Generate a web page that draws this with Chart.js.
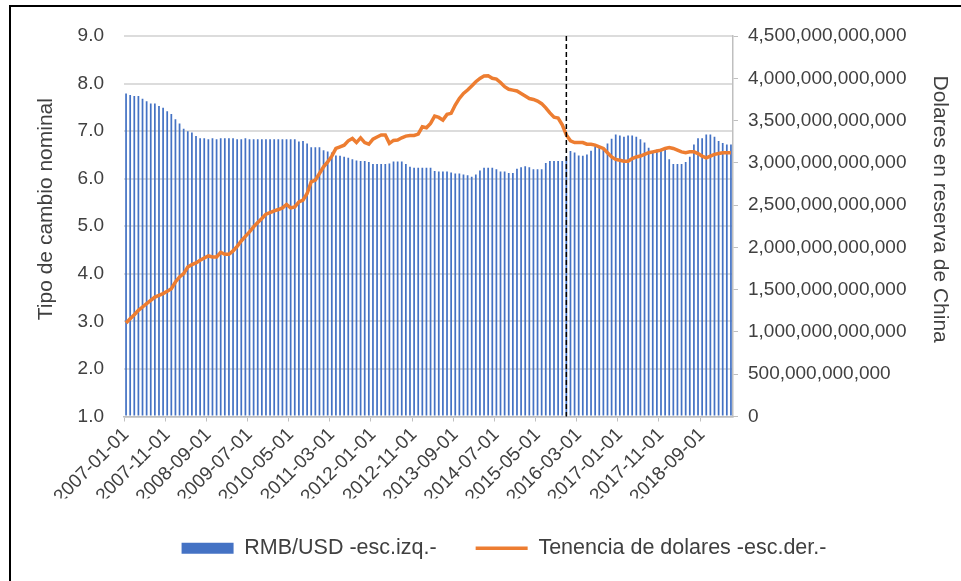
<!DOCTYPE html>
<html>
<head>
<meta charset="utf-8">
<script src="https://cdn.jsdelivr.net/npm/chart.js@4.4.1/dist/chart.umd.min.js"></script>
<style>
  html, body { margin: 0; padding: 0; background: #fff; }
  #wrap { position: relative; width: 961px; height: 581px; overflow: hidden; }
  #wrap canvas { position: absolute; left: 0; top: 0; }
  #frame { position: absolute; left: 9px; top: 5px; width: 1000px; height: 700px;
           border-left: 2px solid #000; border-top: 2px solid #000; pointer-events: none; }
</style>
</head>
<body>
<div id="wrap">
  <canvas id="chart" width="961" height="581"></canvas>
  <div id="frame"></div>
</div>
<script>
// monthly categories, 2007-01 .. 2019-04
const months = [];
for (let y = 2007; y <= 2019; y++) {
  for (let m = 1; m <= 12; m++) {
    if (y === 2019 && m > 4) break;
    months.push(y + '-' + String(m).padStart(2, '0') + '-01');
  }
}
const shownTicks = ['2007-01-01', '2007-11-01', '2008-09-01', '2009-07-01', '2010-05-01',
  '2011-03-01', '2012-01-01', '2012-11-01', '2013-09-01', '2014-07-01', '2015-05-01',
  '2016-03-01', '2017-01-01', '2017-11-01', '2018-09-01'];
const markerMonth = '2015-12-01';

// RMB per USD (left axis)
const rmbUsd = [
  7.79, 7.76, 7.74, 7.74, 7.68, 7.63, 7.58, 7.58, 7.53, 7.49, 7.42, 7.36,
  7.25, 7.16, 7.05, 7.00, 6.97, 6.90, 6.85, 6.85, 6.83, 6.85, 6.83, 6.85,
  6.85, 6.85, 6.85, 6.83, 6.83, 6.85, 6.83, 6.83, 6.83, 6.83, 6.83, 6.83,
  6.83, 6.83, 6.83, 6.83, 6.83, 6.83, 6.78, 6.79, 6.74, 6.66, 6.66, 6.66,
  6.60, 6.57, 6.55, 6.49, 6.48, 6.46, 6.44, 6.41, 6.38, 6.37, 6.37, 6.35,
  6.31, 6.31, 6.31, 6.31, 6.32, 6.36, 6.36, 6.36, 6.31, 6.25, 6.23, 6.23,
  6.23, 6.23, 6.23, 6.16, 6.15, 6.15, 6.15, 6.13, 6.11, 6.11, 6.09, 6.07,
  6.04, 6.09, 6.17, 6.23, 6.23, 6.23, 6.20, 6.15, 6.15, 6.12, 6.12, 6.21,
  6.24, 6.26, 6.24, 6.20, 6.20, 6.20, 6.33, 6.37, 6.37, 6.37, 6.37, 6.46,
  6.58, 6.55, 6.49, 6.48, 6.51, 6.59, 6.68, 6.66, 6.61, 6.74, 6.84, 6.93,
  6.91, 6.88, 6.91, 6.91, 6.88, 6.83, 6.76, 6.65, 6.56, 6.61, 6.63, 6.61,
  6.41, 6.31, 6.31, 6.31, 6.35, 6.46, 6.72, 6.85, 6.85, 6.93, 6.93, 6.88,
  6.79, 6.75, 6.72, 6.72
];

// dollar holdings, billions of USD (right axis)
const reservesBn = [
  1105, 1157, 1204, 1255, 1295, 1334, 1374, 1413, 1433, 1453, 1480, 1512,
  1591, 1650, 1690, 1768, 1796, 1816, 1847, 1875, 1899, 1887, 1887, 1942,
  1918, 1918, 1958, 2013, 2076, 2130, 2183, 2242, 2294, 2341, 2392, 2412,
  2432, 2448, 2467, 2507, 2467, 2479, 2538, 2558, 2637, 2775, 2795, 2874,
  2953, 3012, 3079, 3170, 3190, 3209, 3261, 3289, 3240, 3295, 3240, 3220,
  3280, 3305, 3330, 3330, 3230, 3265, 3270, 3296, 3316, 3324, 3324, 3340,
  3426, 3415, 3466, 3553, 3537, 3505, 3573, 3585, 3683, 3762, 3821, 3861,
  3908, 3959, 3999, 4026, 4030, 4000, 3990, 3950, 3900, 3870, 3860, 3850,
  3820, 3790, 3760, 3750, 3730, 3700, 3650, 3590, 3540, 3530, 3450, 3330,
  3260, 3240, 3240, 3240, 3220, 3220, 3210, 3190, 3170, 3120, 3070, 3040,
  3030, 3020, 3020, 3050, 3070, 3080, 3100, 3120, 3130, 3140, 3150, 3170,
  3180, 3170, 3150, 3130, 3120, 3130, 3130, 3110, 3080, 3060, 3080, 3100,
  3110, 3120, 3120, 3120
];

const leftTitle = 'Tipo de cambio nominal';
const rightTitle = 'Dolares en reserva de China';
const FONT = '"Liberation Sans", Arial, sans-serif';
const TEXT = '#404040';

Chart.defaults.font.family = FONT;
Chart.defaults.font.size = 19;
Chart.defaults.color = TEXT;

// dashed marker at the chosen month
const markerLine = {
  id: 'markerLine',
  afterDatasetsDraw(chart) {
    const ctx = chart.ctx, a = chart.chartArea;
    const x = chart.scales.x.getPixelForValue(months.indexOf(markerMonth));
    ctx.save();
    ctx.strokeStyle = '#000';
    ctx.lineWidth = 1.5;
    ctx.setLineDash([5, 3]);
    ctx.beginPath();
    ctx.moveTo(x, a.top);
    ctx.lineTo(x, a.bottom);
    ctx.stroke();
    ctx.restore();
  }
};

// vertical axis titles, set a bit above the middle as in the original
const sideTitles = {
  id: 'sideTitles',
  afterDraw(chart) {
    const ctx = chart.ctx, a = chart.chartArea;
    const midY = a.top + (a.bottom - a.top) * 0.455;
    ctx.save();
    ctx.font = '21px ' + FONT;
    ctx.fillStyle = TEXT;
    ctx.textAlign = 'center';
    ctx.textBaseline = 'middle';
    ctx.translate(a.left - 78, midY);
    ctx.rotate(-Math.PI / 2);
    ctx.fillText(leftTitle, 0, 0);
    ctx.restore();
    ctx.save();
    ctx.font = '21px ' + FONT;
    ctx.fillStyle = TEXT;
    ctx.textAlign = 'center';
    ctx.textBaseline = 'middle';
    ctx.translate(a.right + 207, midY);
    ctx.rotate(Math.PI / 2);
    ctx.fillText(rightTitle, 0, 0);
    ctx.restore();
  }
};

new Chart(document.getElementById('chart'), {
  type: 'bar',
  data: {
    labels: months,
    datasets: [
      {
        type: 'bar',
        label: 'RMB/USD -esc.izq.-',
        data: rmbUsd,
        backgroundColor: '#4472C4',
        borderWidth: 0,
        base: 1,
        barPercentage: 0.42,
        categoryPercentage: 1.0,
        yAxisID: 'y',
        order: 2
      },
      {
        type: 'line',
        label: 'Tenencia de dolares -esc.der.-',
        data: reservesBn.map(v => v * 1e9),
        borderColor: '#ED7D31',
        backgroundColor: '#ED7D31',
        borderWidth: 3.5,
        pointRadius: 0,
        tension: 0,
        yAxisID: 'y1',
        order: 1
      }
    ]
  },
  options: {
    responsive: false,
    animation: false,
    events: [],
    layout: { padding: { left: 47, right: 0, top: 36, bottom: 12 } },
    plugins: {
      tooltip: { enabled: false },
      legend: {
        position: 'bottom',
        labels: {
          usePointStyle: true,
          pointStyleWidth: 52,
          boxHeight: 11,
          padding: 39,
          color: TEXT,
          font: { size: 21.5 },
          sort: (a, b) => a.datasetIndex - b.datasetIndex,
          generateLabels(chart) {
            const items = Chart.defaults.plugins.legend.labels.generateLabels(chart);
            items.forEach(it => {
              it.pointStyle = it.datasetIndex === 0 ? 'rect' : 'line';
            });
            return items;
          }
        }
      }
    },
    scales: {
      x: {
        grid: {
          drawOnChartArea: false,
          tickLength: 5,
          color: ctx => (ctx.index % 10 === 0 ? '#bfbfbf' : 'rgba(0,0,0,0)')
        },
        border: { display: true, color: '#bfbfbf', width: 1.5 },
        ticks: {
          autoSkip: false,
          maxRotation: 45,
          minRotation: 45,
          padding: 2,
          font: { size: 19 },
          callback: (v, i) => (shownTicks.includes(months[i]) ? months[i] : '')
        },
        afterFit: s => { s.height = 82; }
      },
      y: {
        position: 'left',
        min: 1,
        max: 9,
        ticks: { stepSize: 1, padding: 20, callback: v => v.toFixed(1) },
        grid: { color: '#dcdcdc', lineWidth: 2, drawTicks: false },
        border: { display: false },
        afterFit: s => { s.width = 77; }
      },
      y1: {
        position: 'right',
        min: 0,
        max: 4.5e12,
        ticks: { stepSize: 5e11, padding: 10, callback: v => v.toLocaleString('en-US') },
        grid: { drawOnChartArea: false, tickLength: 5, color: '#bfbfbf' },
        border: { display: true, color: '#bfbfbf', width: 1.5 },
        afterFit: s => { s.width = 228; }
      }
    }
  },
  plugins: [markerLine, sideTitles]
});
</script>
</body>
</html>
